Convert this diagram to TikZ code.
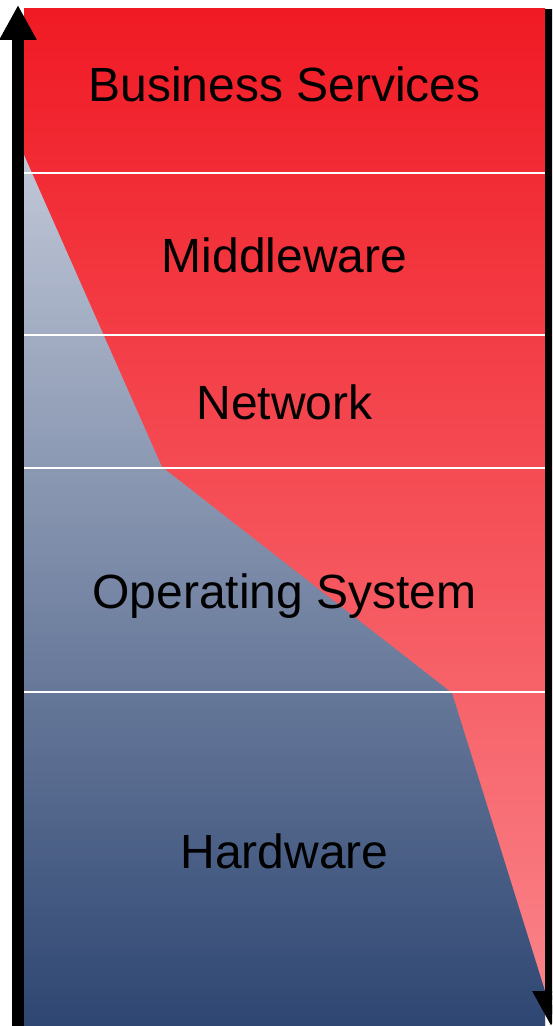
\documentclass[tikz,border=0pt]{standalone}
\usepackage{fontspec}
\setmainfont{Liberation Sans}
\usetikzlibrary{arrows.meta}

\begin{document}
\begin{tikzpicture}[x=0.5pt, y=-0.5pt,
		layer/.style={anchor=base, inner sep=0pt, font=\fontsize{24}{28}\selectfont},
		axis/.style={line width=6pt, line cap=butt, -{Triangle[length=17.5pt, width=17.5pt]}},
		divider/.style={white, line width=1pt}]
		\useasboundingbox (0,0) rectangle (552,1026);
		\clip (0,0) rectangle (552,1026);

		% red part of the stack
		\shade[top color={rgb,255:red,240;green,26;blue,36}, bottom color={rgb,255:red,250;green,134;blue,140}]
		(24,9) rectangle (545,1026);
		% grey-blue part
		\shade[top color={rgb,255:red,192;green,199;blue,215}, bottom color={rgb,255:red,46;green,70;blue,114}]
		(24,155) -- (162,467) -- (452,693) -- (545,991) -- (545,1026) -- (24,1026) -- cycle;

		\foreach \y in {173, 335, 468, 692}
		\draw[divider] (24,\y) -- (545,\y);

		\node[layer] (business) at (284.5,102) {Business Services};
		\node[layer] (middleware) at (284.5,272) {Middleware};
		\node[layer] (network) at (284.5,419) {Network};
		\node[layer] (os) at (284.5,608) {Operating System};
		\node[layer] (hardware) at (284.5,868) {Hardware};

		\coordinate (upfoot) at (18,1026);
		\coordinate (uptip) at (18,5);
		\coordinate (downfoot) at (551,9);
		\coordinate (downtip) at (551,1026);
		\draw[axis] (upfoot) -- (uptip);
		\draw[axis] (downfoot) -- (downtip);
	\end{tikzpicture}
\end{document}
